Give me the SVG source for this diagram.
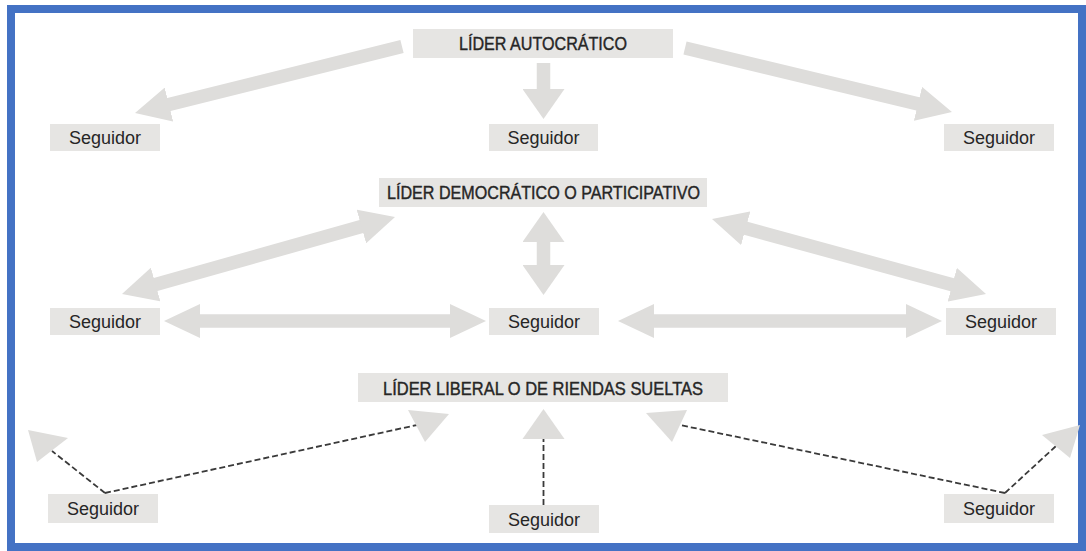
<svg xmlns="http://www.w3.org/2000/svg" width="1086" height="551" viewBox="0 0 1086 551">
  <style>
    .frame { fill: #ffffff; stroke: #4472C4; stroke-width: 8; }
    .box { fill: #E6E5E3; }
    .lbl { font-family: "Liberation Sans", Arial, sans-serif; font-size: 18px; fill: #262626; text-anchor: middle; }
    .ttl { font-family: "Liberation Sans", Arial, sans-serif; font-size: 18px; fill: #262626; stroke: #262626; stroke-width: 0.4; text-anchor: middle; }
    .shaft { stroke: #DEDDDB; stroke-width: 13.5; fill: none; stroke-linecap: butt; }
    .dash { stroke: #3a3a3a; stroke-width: 1.8; stroke-dasharray: 6 3; fill: none; }
    .head { fill: #DEDDDB; }
  </style>
  <defs>
    <!-- heavy arrowheads: diagonal, vertical, horizontal -->
    <marker id="hd" viewBox="0 0 35 35" markerWidth="35" markerHeight="35" refX="1" refY="17.5" orient="auto-start-reverse" markerUnits="userSpaceOnUse">
      <path class="head" d="M0,0 L35,17.5 L0,35 Z"/>
    </marker>
    <marker id="hv" viewBox="0 0 30 42" markerWidth="30" markerHeight="42" refX="1" refY="21" orient="auto-start-reverse" markerUnits="userSpaceOnUse">
      <path class="head" d="M0,0 L30,21 L0,42 Z"/>
    </marker>
    <marker id="hh" viewBox="0 0 36 34" markerWidth="36" markerHeight="34" refX="1" refY="17" orient="auto-start-reverse" markerUnits="userSpaceOnUse">
      <path class="head" d="M0,0 L36,17 L0,34 Z"/>
    </marker>
  </defs>

  <rect class="frame" x="11" y="9" width="1071" height="538"/>

  <g id="connectors">
    <!-- autocratic: one-way downwards -->
    <line class="shaft" x1="402" y1="46.5" x2="168" y2="104.8" marker-end="url(#hd)"/>
    <line class="shaft" x1="543.5" y1="63" x2="543.5" y2="90" marker-end="url(#hv)"/>
    <line class="shaft" x1="685" y1="48" x2="918.9" y2="104.1" marker-end="url(#hd)"/>

    <!-- democratic: two-way -->
    <line class="shaft" x1="154.7" y1="284.8" x2="362.3" y2="226.2" marker-start="url(#hd)" marker-end="url(#hd)"/>
    <line class="shaft" x1="543.5" y1="241" x2="543.5" y2="266" marker-start="url(#hv)" marker-end="url(#hv)"/>
    <line class="shaft" x1="744.8" y1="228" x2="953.2" y2="285" marker-start="url(#hd)" marker-end="url(#hd)"/>
    <line class="shaft" x1="199" y1="321" x2="451" y2="321" marker-start="url(#hh)" marker-end="url(#hh)"/>
    <line class="shaft" x1="653" y1="321" x2="907" y2="321" marker-start="url(#hh)" marker-end="url(#hh)"/>

    <!-- liberal: dashed links -->
    <path class="dash" d="M105,493 L52,451"/>
    <polygon class="head" points="28,430 68,438 37,462"/>
    <path class="dash" d="M105,493 L417,425"/>
    <polygon class="head" points="449,414 408,410 425,442"/>
    <path class="dash" d="M543.5,505 L543.5,438"/>
    <polygon class="head" points="543.5,409 522.5,439 564.5,439"/>
    <path class="dash" d="M1005,493 L680,425"/>
    <polygon class="head" points="646,413 687,410 672,442"/>
    <path class="dash" d="M1005,493 L1056,446"/>
    <polygon class="head" points="1080,425 1042,435 1070,458"/>
  </g>

  <!-- autocratic leader -->
  <g id="lider-autocratico">
    <rect class="box" x="413" y="29" width="260" height="29"/>
    <text class="ttl" x="543" y="50" textLength="168" lengthAdjust="spacingAndGlyphs">LÍDER AUTOCRÁTICO</text>
  </g>
  <g id="seguidor-a1">
    <rect class="box" x="50" y="124" width="110" height="27"/>
    <text class="lbl" x="105" y="144">Seguidor</text>
  </g>
  <g id="seguidor-a2">
    <rect class="box" x="489" y="124" width="109" height="27"/>
    <text class="lbl" x="543.5" y="144">Seguidor</text>
  </g>
  <g id="seguidor-a3">
    <rect class="box" x="944" y="124" width="110" height="27"/>
    <text class="lbl" x="999" y="144">Seguidor</text>
  </g>

  <!-- democratic leader -->
  <g id="lider-democratico">
    <rect class="box" x="379" y="178" width="328" height="29"/>
    <text class="ttl" x="543.5" y="199" textLength="313" lengthAdjust="spacingAndGlyphs">LÍDER DEMOCRÁTICO O PARTICIPATIVO</text>
  </g>
  <g id="seguidor-d1">
    <rect class="box" x="50" y="308" width="110" height="27"/>
    <text class="lbl" x="105" y="328">Seguidor</text>
  </g>
  <g id="seguidor-d2">
    <rect class="box" x="489" y="308" width="110" height="27"/>
    <text class="lbl" x="544" y="328">Seguidor</text>
  </g>
  <g id="seguidor-d3">
    <rect class="box" x="946" y="308" width="110" height="27"/>
    <text class="lbl" x="1001" y="328">Seguidor</text>
  </g>

  <!-- liberal leader -->
  <g id="lider-liberal">
    <rect class="box" x="358" y="373" width="370" height="29"/>
    <text class="ttl" x="543" y="394.5" textLength="320" lengthAdjust="spacingAndGlyphs">LÍDER LIBERAL O DE RIENDAS SUELTAS</text>
  </g>
  <g id="seguidor-l1">
    <rect class="box" x="48" y="494" width="110" height="29"/>
    <text class="lbl" x="103" y="515">Seguidor</text>
  </g>
  <g id="seguidor-l2">
    <rect class="box" x="489" y="505" width="110" height="28"/>
    <text class="lbl" x="544" y="525.5">Seguidor</text>
  </g>
  <g id="seguidor-l3">
    <rect class="box" x="944" y="494" width="110" height="29"/>
    <text class="lbl" x="999" y="515">Seguidor</text>
  </g>
</svg>
